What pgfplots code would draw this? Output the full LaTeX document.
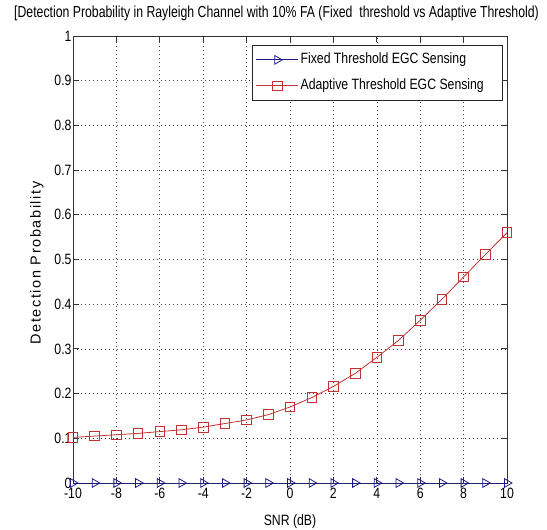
\documentclass[border=0pt]{standalone}
\usepackage{fontspec}
\setmainfont[FakeStretch=0.82]{Liberation Sans}
\newfontfamily\titlefont[FakeStretch=0.77]{Liberation Sans}
\newfontfamily\ylabfont[LetterSpace=11]{Liberation Sans}
\usepackage{pgfplots}
\pgfplotsset{compat=1.18}
\definecolor{mblue}{RGB}{25,25,135}
\definecolor{mred}{RGB}{195,50,50}
\begin{document}
\begin{tikzpicture}
\begin{axis}[
  scale only axis, width=434bp, height=447bp,
  xmin=-10, xmax=10, ymin=0, ymax=1,
  xtick={-10,-8,-6,-4,-2,0,2,4,6,8,10},
  xticklabels={-10,-8,-6,-4,-2,0,2,4,6,8,10},
  ytick={0,0.1,0.2,0.3,0.4,0.5,0.6,0.7,0.8,0.9,1},
  yticklabels={0,0.1,0.2,0.3,0.4,0.5,0.6,0.7,0.8,0.9,1},
  tick align=inside, tick pos=both,
  xticklabel pos=lower, yticklabel pos=left,
  major tick length=6bp,
  grid=major,
  major grid style={black!75, dash pattern=on 1bp off 3bp, line width=0.6bp},
  axis line style={black!80, line width=0.8bp},
  tick style={black!80, line width=0.8bp},
  tick label style={font=\fontsize{15}{15}\selectfont},
  xticklabel style={yshift=-2bp},
  yticklabel style={xshift=2bp},
  clip=false,
  title={[Detection Probability in Rayleigh Channel with 10\% FA (Fixed\ \ threshold vs Adaptive Threshold)},
  title style={at={(axis description cs:0.469,1)}, anchor=base, yshift=12.5bp, font=\titlefont\fontsize{16}{16}\selectfont},
  xlabel={SNR (dB)},
  xlabel style={at={(axis description cs:0.5,-0.086)}, anchor=center, font=\fontsize{15}{15}\selectfont},
  ylabel={Detection Probability},
  ylabel style={at={(axis description cs:-0.083,0.492)}, anchor=center, rotate=0, font=\ylabfont\fontsize{14.5}{14.5}\selectfont},
  legend style={at={(axis description cs:0.9908,0.9799)}, anchor=north east,
    draw=black!85, line width=0.8bp, font=\fontsize{15}{15}\selectfont,
    inner xsep=3bp, inner ysep=5.5bp, row sep=8bp,
    nodes={inner sep=2bp, text height=11bp, text depth=3bp}},
  legend cell align=left,
  legend image code/.code={\draw[mark repeat=2, mark phase=2] plot coordinates {(0bp,0bp) (21bp,0bp) (42bp,0bp)};},
]
\coordinate (SW) at (rel axis cs:0,0);
\coordinate (NE) at (rel axis cs:1,1);
\addplot[color=mblue, line width=0.8bp, mark=triangle, mark size=5bp, mark options={rotate=-90, solid}] coordinates {
(-10,0) (-9,0) (-8,0) (-7,0) (-6,0) (-5,0) (-4,0) (-3,0) (-2,0) (-1,0) (0,0)
(1,0) (2,0) (3,0) (4,0) (5,0) (6,0) (7,0) (8,0) (9,0) (10,0)};
\addlegendentry{\makebox[197bp][l]{Fixed Threshold EGC Sensing}}
\addplot[color=mred, line width=0.8bp, mark=square, mark size=4.8bp, mark options={solid}] coordinates {
(-10,0.102) (-9,0.105) (-8,0.108) (-7,0.111) (-6,0.115) (-5,0.119) (-4,0.125)
(-3,0.133) (-2,0.141) (-1,0.153) (0,0.170) (1,0.191) (2,0.216) (3,0.245)
(4,0.281) (5,0.319) (6,0.364) (7,0.411) (8,0.461) (9,0.511) (10,0.560)};
\addlegendentry{\makebox[197bp][l]{Adaptive Threshold EGC Sensing}}
\end{axis}
\pgfresetboundingbox
\useasboundingbox ([shift={(-73bp,-47bp)}]SW) rectangle ([shift={(40bp,36bp)}]NE);
\end{tikzpicture}
\end{document}
